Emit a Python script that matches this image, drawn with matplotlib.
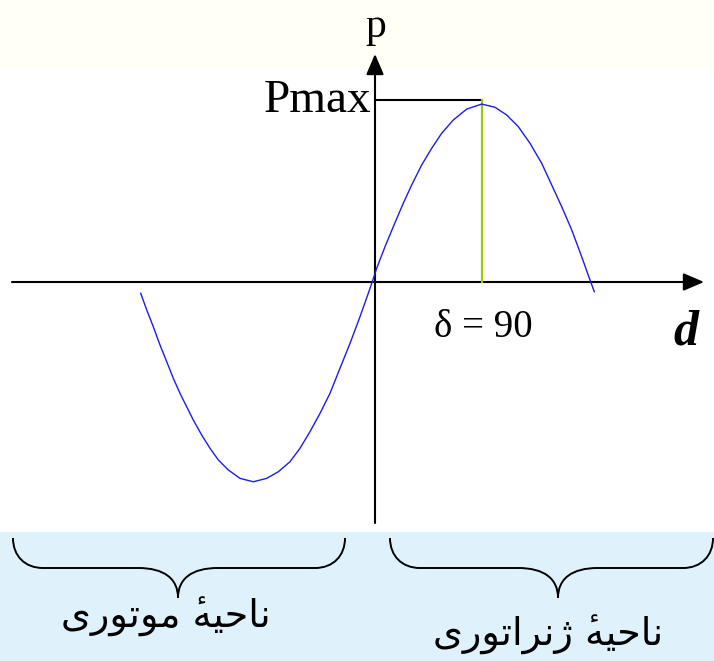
import matplotlib
matplotlib.use("Agg")
import matplotlib.pyplot as plt
from matplotlib.path import Path
from matplotlib.patches import PathPatch

# ---- data (delta in degrees, p relative to Pmax) ----
delta_deg = [-192.75, -187.75, -182.25, -176.67, -171.08, -165.58, -160.0,
             -154.42, -148.92, -141.92, -135.0, -128.08, -119.75, -110.0,
             -98.92, -87.75, -78.08, -68.33, -60.0, -51.67, -43.33, -35.0,
             -26.67, -18.33, -10.0, -3.08, 0.17,
             3.92, 10.83, 17.75, 26.08, 33.08, 41.42, 49.75, 58.08, 67.75,
             78.92, 91.42, 102.5, 112.25, 121.92, 131.67, 141.42, 149.75,
             158.08, 166.42, 174.75, 181.67, 185.25]
power_p = [-0.063, -0.156, -0.250, -0.352, -0.445, -0.538, -0.622,
           -0.697, -0.771, -0.855, -0.929, -0.994, -1.050, -1.097,
           -1.116, -1.097, -1.060, -1.004, -0.929, -0.836, -0.734, -0.622,
           -0.482, -0.343, -0.194, -0.063, 0.0,
           0.077, 0.197, 0.309, 0.440, 0.542, 0.654, 0.747, 0.831, 0.905,
           0.966, 0.994, 0.976, 0.933, 0.868, 0.775, 0.663, 0.542,
           0.421, 0.291, 0.141, 0.011, -0.054]
pmax_level = 1.017
delta_peak = 91.4
axis_label_y = "p"
axis_label_x = "d"
pmax_label = "Pmax"
peak_label = "δ = 90"
# Persian labels written in presentation forms, visual order
region_motor = "\uFEEF\uFEAD\uFEEE\uFE97\uFEEE\uFEE3 \u0654\uFEEA\uFEF4\uFEA3\uFE8E\uFEE7"          # ناحیهٔ موتوری
region_gen = "\uFEEF\uFEAD\uFEEE\uFE97\uFE8D\uFEAE\uFEE7\uFB8A \u0654\uFEEA\uFEF4\uFEA3\uFE8E\uFEE7"  # ناحیهٔ ژنراتوری

W, H = 714, 661
fig = plt.figure(figsize=(W / 100, H / 100), dpi=100)
ax = fig.add_axes([0, 0, 1, 1])

X0, SX = 372.0, 1.2      # pixel x of delta=0, pixels per degree
Y0, SY = 282.0, 179.0    # pixel y of p=0, pixels per Pmax


def X(px):
    return (px - X0) / SX


def Y(py):
    return (Y0 - py) / SY


ax.set_xlim(X(0), X(W))
ax.set_ylim(Y(H), Y(0))
ax.axis("off")

# background bands
ax.axhspan(Y(68), Y(0), color="#fffff6", zorder=0, lw=0)
ax.axhspan(Y(H), Y(532), color="#dff2fc", zorder=0, lw=0)

# axes with arrows
ax.annotate("", xy=(X(704), 0), xytext=(X(12), 0),
            arrowprops=dict(arrowstyle="-|>,head_length=0.7,head_width=0.3",
                            color="black", lw=1.5,
                            mutation_scale=18, shrinkA=0, shrinkB=0), zorder=3)
ax.annotate("", xy=(X(375), Y(54)), xytext=(X(375), Y(523)),
            arrowprops=dict(arrowstyle="-|>,head_length=0.7,head_width=0.3",
                            color="black", lw=1.5,
                            mutation_scale=18, shrinkA=0, shrinkB=0), zorder=3)

# Pmax guide and delta=90 line
ax.plot([X(375), delta_peak], [pmax_level, pmax_level], color="black", lw=1.5, zorder=3)
ax.plot([delta_peak, delta_peak], [0, pmax_level], color="#99cc00", lw=1.6, zorder=3)

# power-angle curve
ax.plot(delta_deg, power_p, color="#1c1cf0", lw=1.0, zorder=4,
        solid_joinstyle="round")

serif = "Liberation Serif"
ax.text(X(376), Y(37), axis_label_y, fontsize=30, family=serif,
        ha="center", va="baseline")
ax.text(X(371), Y(112), pmax_label, fontsize=34, family=serif,
        ha="right", va="baseline")
ax.text(X(483), Y(337), peak_label, fontsize=28, family=serif,
        ha="center", va="baseline")
ax.text(X(686), Y(345), axis_label_x, fontsize=36, family=serif,
        style="italic", weight="bold", ha="center", va="baseline")


def brace(x0, x1, xc, ytop, ymid, ytip, r=30, rc=40):
    P = lambda a, b: (X(a), Y(b))
    verts = [P(x0, ytop),
             P(x0, ytop + 0.6 * (ymid - ytop)), P(x0 + 0.4 * r, ymid), P(x0 + r, ymid),
             P(xc - rc, ymid),
             P(xc - 0.35 * rc, ymid), P(xc, ymid + 0.35 * (ytip - ymid)), P(xc, ytip),
             P(xc, ymid + 0.35 * (ytip - ymid)), P(xc + 0.35 * rc, ymid), P(xc + rc, ymid),
             P(x1 - r, ymid),
             P(x1 - 0.4 * r, ymid), P(x1, ytop + 0.6 * (ymid - ytop)), P(x1, ytop)]
    codes = [Path.MOVETO,
             Path.CURVE4, Path.CURVE4, Path.CURVE4,
             Path.LINETO,
             Path.CURVE4, Path.CURVE4, Path.CURVE4,
             Path.CURVE4, Path.CURVE4, Path.CURVE4,
             Path.LINETO,
             Path.CURVE4, Path.CURVE4, Path.CURVE4]
    ax.add_patch(PathPatch(Path(verts, codes), fill=False, lw=1.4,
                           edgecolor="black", zorder=3))


brace(13, 345, 178, 538, 568, 598)
brace(390, 713, 558, 538, 568, 598)

ax.text(X(166), Y(617), region_motor, fontsize=27.5, family="DejaVu Sans",
        ha="center", va="center")
ax.text(X(548), Y(635), region_gen, fontsize=27.5, family="DejaVu Sans",
        ha="center", va="center")

fig.savefig("out.png", dpi=100)
